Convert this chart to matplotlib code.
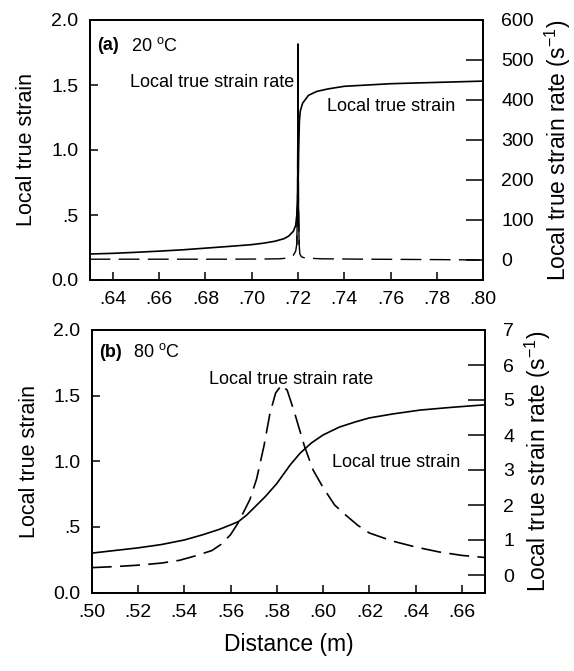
import matplotlib
matplotlib.use("Agg")
import matplotlib.pyplot as plt
import numpy as np

plt.rcParams['font.family'] = ['Liberation Sans', 'DejaVu Sans']
plt.rcParams['mathtext.fontset'] = 'custom'
plt.rcParams['mathtext.rm'] = 'Liberation Sans'
plt.rcParams['mathtext.it'] = 'Liberation Sans:italic'

# ---- Panel (a) 20 C ----
a_x_strain = [0.630, 0.640, 0.650, 0.660, 0.670, 0.680, 0.690, 0.700, 0.705, 0.710,
              0.714, 0.716, 0.718, 0.719, 0.7195, 0.7200, 0.7203, 0.7206, 0.7210,
              0.7220, 0.7245, 0.728, 0.733, 0.740, 0.750, 0.760, 0.770, 0.780, 0.790, 0.800]
a_strain = [0.20, 0.205, 0.213, 0.222, 0.232, 0.245, 0.258, 0.272, 0.283, 0.298,
            0.318, 0.338, 0.375, 0.42, 0.50, 0.70, 1.00, 1.22, 1.30,
            1.36, 1.42, 1.45, 1.47, 1.49, 1.50, 1.51, 1.515, 1.52, 1.525, 1.53]
a_x_rate = [0.630, 0.650, 0.670, 0.690, 0.705, 0.712, 0.716, 0.718, 0.719, 0.7195,
            0.7198, 0.7200, 0.7202, 0.7205, 0.7208, 0.7215, 0.723, 0.730, 0.750, 0.780, 0.800]
a_rate = [2, 2, 2, 2, 2.5, 3, 5, 12, 22, 40,
          150, 540, 150, 40, 15, 8, 5, 3, 2, 1, 0]

# ---- Panel (b) 80 C ----
b_x_strain = [0.500, 0.510, 0.520, 0.530, 0.540, 0.548, 0.555, 0.560, 0.5634, 0.567,
              0.571, 0.575, 0.580, 0.5857, 0.590, 0.595, 0.600, 0.607, 0.614, 0.620,
              0.630, 0.642, 0.655, 0.670]
b_strain = [0.30, 0.32, 0.34, 0.365, 0.40, 0.44, 0.48, 0.515, 0.54, 0.59,
            0.66, 0.73, 0.83, 0.97, 1.06, 1.14, 1.20, 1.26, 1.30, 1.33,
            1.36, 1.39, 1.41, 1.43]
b_x_rate = [0.500, 0.510, 0.520, 0.530, 0.538, 0.545, 0.552, 0.556, 0.560, 0.5634,
            0.5684, 0.5713, 0.5745, 0.577, 0.5795, 0.5821, 0.5845, 0.5877, 0.592, 0.5957,
            0.600, 0.605, 0.610, 0.615, 0.620, 0.630, 0.640, 0.650, 0.660, 0.670]
b_rate = [0.21, 0.24, 0.28, 0.34, 0.42, 0.55, 0.70, 0.88, 1.15, 1.50,
          2.16, 2.75, 3.7, 4.6, 5.2, 5.43, 5.28, 4.63, 3.67, 3.0,
          2.5, 2.0, 1.7, 1.42, 1.2, 0.97, 0.80, 0.66, 0.56, 0.50]

left_ticks = [0.0, 0.5, 1.0, 1.5, 2.0]
left_ticklabels = ['0.0', '.5', '1.0', '1.5', '2.0']
a_xticks = [0.64, 0.66, 0.68, 0.70, 0.72, 0.74, 0.76, 0.78, 0.80]
a_xticklabels = ['.64', '.66', '.68', '.70', '.72', '.74', '.76', '.78', '.80']
b_xticks = [0.50, 0.52, 0.54, 0.56, 0.58, 0.60, 0.62, 0.64, 0.66]
b_xticklabels = ['.50', '.52', '.54', '.56', '.58', '.60', '.62', '.64', '.66']
a_rticks = [0, 100, 200, 300, 400, 500, 600]
b_rticks = [0, 1, 2, 3, 4, 5, 6, 7]

W, H = 574, 671
fig = plt.figure(figsize=(W / 100, H / 100), dpi=100)

def px_axes(l, r, t, b):
    return fig.add_axes([l / W, 1 - b / H, (r - l) / W, (b - t) / H])

TICK_FS = 14
ANN_FS = 13
LAB_FS = 15.5
RLAB_FS = 16.5
LW = 1.2

def style(ax, ax2):
    for a in (ax, ax2):
        for s in a.spines.values():
            s.set_linewidth(1.3)
    ax.tick_params(axis='y', direction='in', length=6, width=1.1, labelsize=TICK_FS, pad=8)
    ax.tick_params(axis='x', direction='in', length=6, width=1.1, labelsize=TICK_FS, pad=8)
    ax2.tick_params(axis='y', direction='in', length=12, width=1.1, labelsize=TICK_FS, pad=13)

# Panel a
ax = px_axes(89.5, 483.3, 20, 280)
ax2 = ax.twinx()
ax.plot(a_x_strain, a_strain, color='black', lw=LW)
ax2.plot(a_x_rate, a_rate, color='black', lw=1.0, dashes=(15, 6))
a_xr = np.array(a_x_rate); a_r = np.array(a_rate)
m = a_r >= 40
ax2.plot(a_xr[m], a_r[m], color='black', lw=1.0)
ax.set_xlim(0.63, 0.80)
ax.set_ylim(0, 2.0)
ax2.set_ylim(-50, 600)
ax.set_xticks(a_xticks)
ax.set_xticklabels(a_xticklabels)
ax.set_yticks(left_ticks)
ax.set_yticklabels(left_ticklabels)
ax2.set_yticks(a_rticks)
style(ax, ax2)
ax.set_ylabel('Local true strain', fontsize=LAB_FS, labelpad=10)
ax2.set_ylabel('Local true strain rate (s$^{\\mathregular{-1}}$)', fontsize=RLAB_FS, labelpad=6)
ax.text(0.02, 0.90, '(a)', transform=ax.transAxes, fontsize=ANN_FS, fontweight='bold', va='center')
ax.text(0.105, 0.90, '20 $^{\\mathregular{o}}$C', transform=ax.transAxes, fontsize=ANN_FS, va='center')
ax.text(0.519, 0.758, 'Local true strain rate', transform=ax.transAxes, fontsize=ANN_FS, ha='right', va='center')
ax.text(0.603, 0.669, 'Local true strain', transform=ax.transAxes, fontsize=ANN_FS, ha='left', va='center')

# Panel b
bx = px_axes(91.7, 485, 330, 592.5)
bx2 = bx.twinx()
bx.plot(b_x_strain, b_strain, color='black', lw=LW)
bx2.plot(b_x_rate, b_rate, color='black', lw=LW, dashes=(12, 5))
bx.set_xlim(0.50, 0.67)
bx.set_ylim(0, 2.0)
bx2.set_ylim(-0.5, 7)
bx.set_xticks(b_xticks)
bx.set_xticklabels(b_xticklabels)
bx.set_yticks(left_ticks)
bx.set_yticklabels(left_ticklabels)
bx2.set_yticks(b_rticks)
style(bx, bx2)
bx.set_ylabel('Local true strain', fontsize=LAB_FS, labelpad=10)
bx2.set_ylabel('Local true strain rate (s$^{\\mathregular{-1}}$)', fontsize=RLAB_FS, labelpad=6)
bx.set_xlabel('Distance (m)', fontsize=LAB_FS + 1, labelpad=9)
bx.text(0.02, 0.916, '(b)', transform=bx.transAxes, fontsize=ANN_FS, fontweight='bold', va='center')
bx.text(0.105, 0.916, '80 $^{\\mathregular{o}}$C', transform=bx.transAxes, fontsize=ANN_FS, va='center')
bx.text(0.507, 0.81, 'Local true strain rate', transform=bx.transAxes, fontsize=ANN_FS, ha='center', va='center')
bx.text(0.611, 0.497, 'Local true strain', transform=bx.transAxes, fontsize=ANN_FS, ha='left', va='center')

fig.savefig('out.png', dpi=100)
